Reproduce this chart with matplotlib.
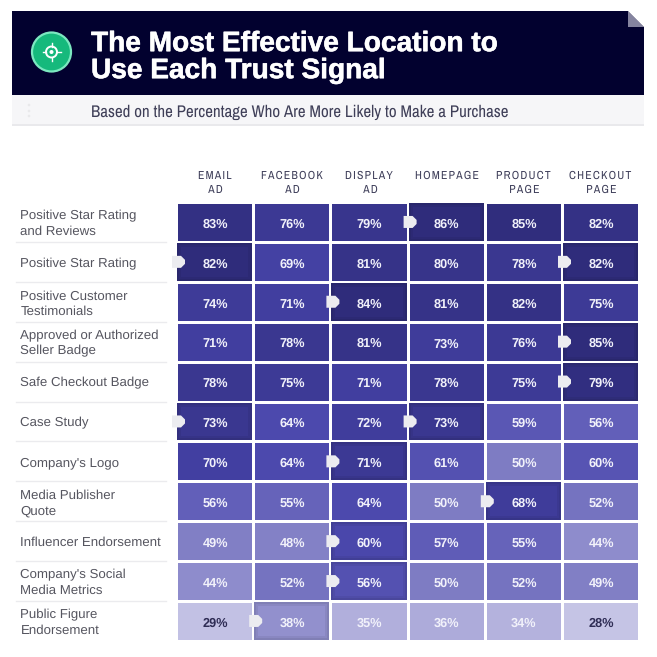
import matplotlib
matplotlib.use('Agg')
import matplotlib.pyplot as plt
import matplotlib.patheffects as pe
import numpy as np
from matplotlib.colors import LinearSegmentedColormap, Normalize
from matplotlib.patches import Rectangle, Polygon, Circle

plt.rcParams['font.family'] = ['Liberation Sans', 'DejaVu Sans']
plt.rcParams['text.hinting'] = 'no_hinting'
narrow = ['Archivo Narrow', 'Roboto Condensed', 'Liberation Sans']

title_lines = ['The Most Effective Location to', 'Use Each Trust Signal']
subtitle = 'Based on the Percentage Who Are More Likely to Make a Purchase'
columns = ['EMAIL\nAD', 'FACEBOOK\nAD', 'DISPLAY\nAD', 'HOMEPAGE', 'PRODUCT\nPAGE', 'CHECKOUT\nPAGE']
rows = ['Positive Star Rating\nand Reviews', 'Positive Star Rating', 'Positive Customer\nTestimonials',
        'Approved or Authorized\nSeller Badge', 'Safe Checkout Badge', 'Case Study', "Company's Logo",
        'Media Publisher\nQuote', 'Influencer Endorsement', "Company's Social\nMedia Metrics",
        'Public Figure\nEndorsement']
values = np.array([
    [83, 76, 79, 86, 85, 82],
    [82, 69, 81, 80, 78, 82],
    [74, 71, 84, 81, 82, 75],
    [71, 78, 81, 73, 76, 85],
    [78, 75, 71, 78, 75, 79],
    [73, 64, 72, 73, 59, 56],
    [70, 64, 71, 61, 50, 60],
    [56, 55, 64, 50, 68, 52],
    [49, 48, 60, 57, 55, 44],
    [44, 52, 56, 50, 52, 49],
    [29, 38, 35, 36, 34, 28],
])
# row, column of the flagged cells
flagged = [(0, 3), (1, 0), (1, 5), (2, 2), (3, 5), (4, 5), (5, 0), (5, 3), (6, 2), (7, 4), (8, 2), (9, 2), (10, 1)]

navy = '#02012f'
cmap = LinearSegmentedColormap.from_list('trust', [
    (0.0, '#c5c4e5'), (0.12, '#b1afdc'), (0.28, '#8d8bcb'), (0.38, '#7e7cc3'),
    (0.48, '#625fb9'), (0.62, '#4c49ad'), (0.74, '#413e9f'), (0.86, '#3a3790'), (1.0, '#2f2c7b')])
norm = Normalize(28, 86)

fig = plt.figure(figsize=(6.57, 6.57), dpi=100)
ax = fig.add_axes([0, 0, 1, 1])
ax.set_xlim(0, 657)
ax.set_ylim(657, 0)
ax.axis('off')

# header band
ax.add_patch(Rectangle((12, 11), 632, 84, fc=navy, ec='none'))
ax.add_patch(Polygon([(628, 11), (644, 27), (628, 27)], fc='#85849f', ec='none'))
ax.add_patch(Polygon([(628, 11), (644, 11), (644, 27)], fc='white', ec='none'))
ax.add_patch(Rectangle((12, 95), 632, 30, fc='#f6f6f8', ec='none'))
ax.add_patch(Rectangle((12, 124), 632, 2, fc='#e9e9ec', ec='none'))
for y in [105, 111, 116]:
    ax.add_patch(Circle((29, y), 1.3, fc='#e9e9eb', ec='none'))

# target icon
ax.add_patch(Circle((51.5, 52), 19.5, fc='#16b97c', ec='#7ce8c0', lw=1.6))
ax.add_patch(Circle((51.5, 52), 5.5, fc='none', ec='white', lw=1.4))
ax.add_patch(Circle((51.5, 52), 2, fc='white', ec='none'))
ax.plot([42.5, 46], [52, 52], color='white', lw=1)
ax.plot([57, 60.5], [52, 52], color='white', lw=1)
ax.plot([51.5, 51.5], [43, 46.5], color='white', lw=1)
ax.plot([51.5, 51.5], [57.5, 61], color='white', lw=1)

for y, line in zip([41, 68], title_lines):
    ax.text(91, y, line, color='white', fontsize=20.2, fontweight='bold', va='center_baseline', ha='left',
            path_effects=[pe.withStroke(linewidth=0.4, foreground='white')])
ax.text(91, 111, subtitle, color='#3f3f58', fontsize=12.2, family=narrow, va='center_baseline', ha='left')

# heatmap
cell_w = 77.2
cell_h = 39.9
x_edges = 176 + cell_w * np.arange(len(columns) + 1)
y_edges = 202 + cell_h * np.arange(len(rows) + 1)
ax.pcolormesh(x_edges, y_edges, values, cmap=cmap, norm=norm, edgecolors='white', linewidth=0.8)

for r, c in flagged:
    inner = np.array(cmap(norm(values[r, c] + 5))[:3])
    edge = inner * 0.88
    ax.add_patch(Rectangle((x_edges[c] + 1, y_edges[r] + 1), cell_w - 2, cell_h - 2, fc=edge, ec='none'))
    ax.add_patch(Rectangle((x_edges[c] + 3, y_edges[r] + 3), cell_w - 6, cell_h - 6, fc=edge * 0.5 + inner * 0.5, ec='none'))
    ax.add_patch(Rectangle((x_edges[c] + 5, y_edges[r] + 5), cell_w - 10, cell_h - 10, fc=inner, ec='none'))

for r in range(len(rows)):
    for c in range(len(columns)):
        dark = values[r, c] < 30
        ax.text(x_edges[c] + cell_w / 2 + 0.5, y_edges[r] + cell_h / 2 + 1, f'{values[r, c]}%',
                color='#2f2d55' if dark else '#f1f1fa', fontsize=9.2, fontweight='bold',
                ha='center', va='center_baseline')

# flags drawn last so they sit over the grid lines
for r, c in flagged:
    x0 = x_edges[c] - 4
    ym = y_edges[r] + cell_h / 2
    ax.add_patch(Polygon([(x0, ym - 6), (x0 + 9, ym - 6), (x0 + 13, ym - 2), (x0 + 13, ym + 2),
                          (x0 + 9, ym + 6), (x0, ym + 6)], fc='#ececf0', ec='none', zorder=5))

# column headers
for c, label in enumerate(columns):
    ax.text(x_edges[c] + cell_w / 2 + 0.5, 170.5, '\u200a'.join(label), color='#3f3f5a', fontsize=8.4,
            family=narrow, ha='center', va='top', multialignment='center', linespacing=1.45)

# row labels
for r, label in enumerate(rows):
    shift = -1 if '\n' in label else 0.5
    ax.text(20.5, y_edges[r] + cell_h / 2 + shift, label, color='#55555f', fontsize=9.55, ha='left',
            va='center_baseline', linespacing=1.33)
    if r < len(rows) - 1:
        ax.plot([16, 166], [y_edges[r + 1], y_edges[r + 1]], color='#ebebee', lw=1)

fig.savefig('out.png', dpi=100)
